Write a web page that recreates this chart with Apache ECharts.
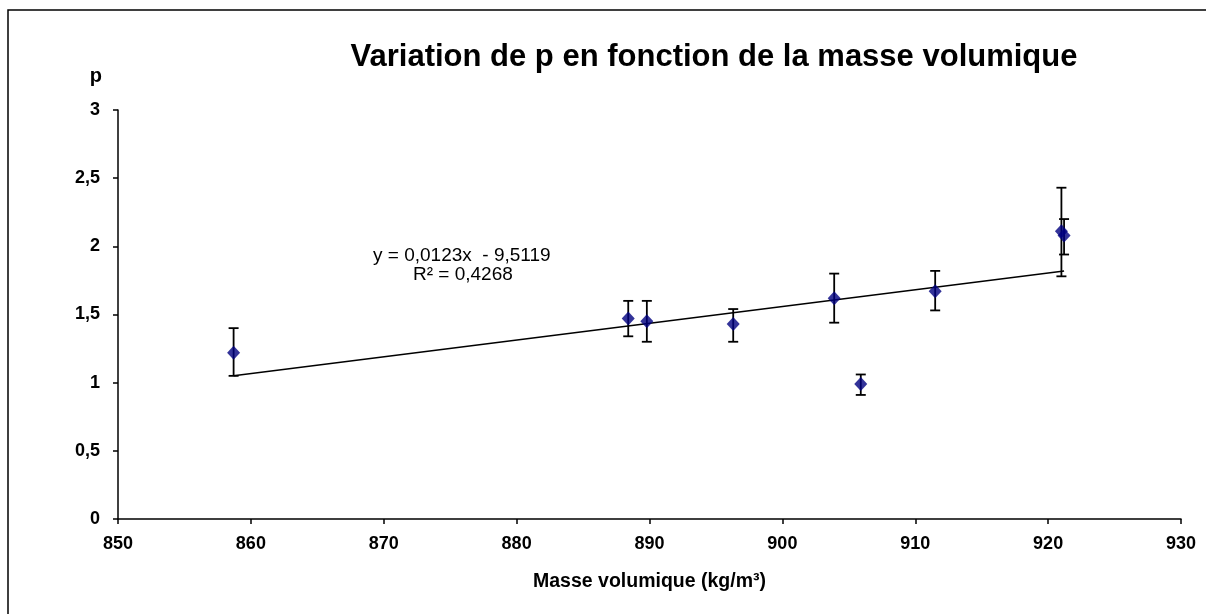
<!DOCTYPE html>
<html>
<head>
<meta charset="utf-8">
<script src="https://cdn.jsdelivr.net/npm/echarts@6/dist/echarts.min.js"></script>
<style>
  html, body { margin: 0; padding: 0; background: #fff; }
  #chart { width: 1206px; height: 614px; }
</style>
</head>
<body>
<div id="chart"></div>
<script>
// masse volumique (kg/m3) et p, avec les bornes des barres d'erreur
const masse = [858.7, 888.4, 889.8, 896.3, 903.9, 905.9, 911.5, 921.0, 921.2];
const pVal = [1.22, 1.47, 1.45, 1.43, 1.62, 0.99, 1.67, 2.11, 2.08];
const pBas = [1.05, 1.34, 1.30, 1.30, 1.44, 0.91, 1.53, 1.78, 1.94];
const pHaut = [1.40, 1.60, 1.60, 1.54, 1.80, 1.06, 1.82, 2.43, 2.20];
// courbe de tendance lineaire (Excel)
const pente = 0.0123;
const ordonnee = -9.5119;
const equation = ["y = 0,0123x  - 9,5119", "R² = 0,4268"];

const xMin = Math.min.apply(null, masse);
const xMax = Math.max.apply(null, masse);
const tendance = [
	[xMin, pente * xMin + ordonnee],
	[xMax, pente * xMax + ordonnee]
];

const font = "'Liberation Sans', Arial, sans-serif";
const virgule = v => String(v).replace(".", ",");

const myChart = echarts.init(document.getElementById("chart"));
const option = {
	backgroundColor: "#fff",
	animation: false,
	title: {
		text: "Variation de p en fonction de la masse volumique",
		left: 709,
		top: 37,
		textAlign: "center",
		textStyle: { fontFamily: font, fontSize: 31, fontWeight: "bold", color: "#000" }
	},
	grid: { left: 118, right: 25, top: 110, bottom: 95 },
	xAxis: {
		type: "value",
		min: 850,
		max: 930,
		interval: 10,
		name: "Masse volumique (kg/m³)",
		nameLocation: "middle",
		nameGap: 53,
		nameTextStyle: { fontFamily: font, fontSize: 19.5, fontWeight: "bold", color: "#000" },
		axisLine: { onZero: false, lineStyle: { color: "#000", width: 1.5 } },
		axisTick: { show: true, length: 5, lineStyle: { color: "#000", width: 1.5 } },
		axisLabel: { fontFamily: font, fontSize: 18, fontWeight: "bold", color: "#000", margin: 16 },
		splitLine: { show: false }
	},
	yAxis: {
		type: "value",
		min: 0,
		max: 3,
		interval: 0.5,
		name: "p",
		nameLocation: "end",
		nameGap: 24,
		nameTextStyle: { fontFamily: font, fontSize: 20, fontWeight: "bold", color: "#000", align: "right", padding: [0, 16, 0, 0] },
		axisLine: { show: true, lineStyle: { color: "#000", width: 1.5 } },
		axisTick: { show: true, length: 5, lineStyle: { color: "#000", width: 1.5 } },
		axisLabel: { fontFamily: font, fontSize: 18, fontWeight: "bold", color: "#000", margin: 18, formatter: virgule },
		splitLine: { show: false }
	},
	graphic: [
		{
			type: "rect",
			shape: { x: 8, y: 10, width: 1250, height: 700 },
			style: { fill: null, stroke: "#000", lineWidth: 1.5 },
			silent: true
		},
		{
			type: "text",
			left: 373,
			top: 246,
			style: { text: equation[0], font: "19px " + font, fill: "#000" }
		},
		{
			type: "text",
			left: 413,
			top: 265,
			style: { text: equation[1], font: "19px " + font, fill: "#000" }
		}
	],
	series: [
		{
			type: "line",
			data: tendance,
			symbol: "none",
			lineStyle: { color: "#000", width: 1.5 },
			z: 2
		},
		{
			type: "custom",
			data: masse.map((m, i) => [m, pBas[i], pHaut[i]]),
			encode: { x: 0, y: [1, 2] },
			renderItem: (params, api) => {
				const x = api.value(0);
				const haut = api.coord([x, api.value(2)]);
				const bas = api.coord([x, api.value(1)]);
				const d = 5;
				const style = { stroke: "#000", lineWidth: 1.8 };
				return {
					type: "group",
					children: [
						{ type: "line", shape: { x1: haut[0], y1: haut[1], x2: bas[0], y2: bas[1] }, style },
						{ type: "line", shape: { x1: haut[0] - d, y1: haut[1], x2: haut[0] + d, y2: haut[1] }, style },
						{ type: "line", shape: { x1: bas[0] - d, y1: bas[1], x2: bas[0] + d, y2: bas[1] }, style }
					]
				};
			},
			z: 3
		},
		{
			type: "scatter",
			data: masse.map((m, i) => [m, pVal[i]]),
			symbol: "diamond",
			symbolSize: [13, 14],
			itemStyle: { color: "#000080" },
			z: 4
		}
	]
};
myChart.setOption(option);
</script>
</body>
</html>
